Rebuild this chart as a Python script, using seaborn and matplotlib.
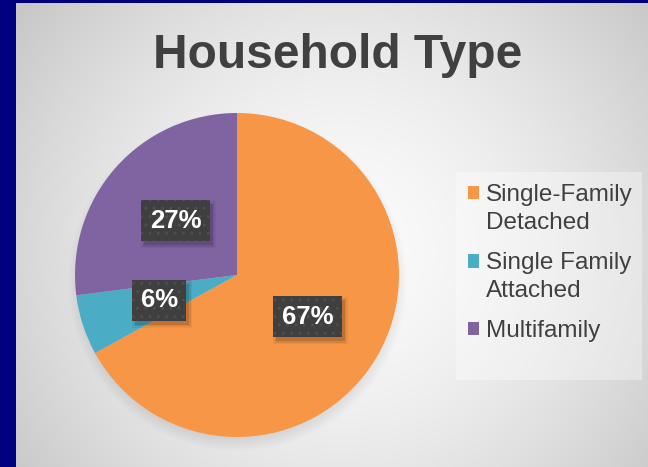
import numpy as np
import matplotlib
matplotlib.use("Agg")
import matplotlib.pyplot as plt
import seaborn as sns
from matplotlib.patches import Rectangle

# ---- data ----
categories = ["Single-Family\nDetached", "Single Family\nAttached", "Multifamily"]
shares = [67, 6, 27]
colors = ["#F79646", "#4BACC6", "#8064A2"]
title = "Household Type"

sns.set_style("white")
plt.rcParams['font.family'] = ['Liberation Sans', 'DejaVu Sans']

W, H = 648, 467
fig = plt.figure(figsize=(W / 100, H / 100), dpi=100)

# ---- background (radial gradient + soft pie shadow) ----
bg = fig.add_axes([0, 0, 1, 1], zorder=0)
yy, xx = np.mgrid[0:H, 0:W]
cx, cy = 340, 250
r = np.hypot(xx - cx, yy - cy)
val = 0.985 - 0.22 * (r / r.max()) ** 1.6
pcx, pcy, pr = 237, 275, 162
d = np.hypot(xx - pcx, yy - (pcy + 6))
val = val - np.clip((pr + 8 - d) / 16, 0, 1) * 0.10
img = np.clip(np.dstack([val] * 3), 0, 1)
bg.imshow(img, extent=[0, W, H, 0], aspect='auto', interpolation='bilinear')
bg.add_patch(Rectangle((0, 0), 16, H, color='#000080', lw=0))
bg.add_patch(Rectangle((0, 0), W, 3, color='#000080', lw=0))
# legend panel
bg.add_patch(Rectangle((456, 172), 186, 208, facecolor='white', alpha=0.35, lw=0))
bg.set_xlim(0, W)
bg.set_ylim(H, 0)
bg.axis('off')

# ---- pie ----
pax = fig.add_axes([(pcx - pr) / W, (H - pcy - pr) / H, 2 * pr / W, 2 * pr / H], zorder=1)
wedges, texts, autotexts = pax.pie(
    shares, colors=sns.color_palette(colors), startangle=90, counterclock=False,
    autopct='%1.0f%%', pctdistance=0.505, radius=1,
    wedgeprops=dict(linewidth=0),
    textprops=dict(color='white', fontsize=18.5, fontweight='bold', zorder=5))
pax.set_xlim(-1, 1)
pax.set_ylim(-1, 1)
pax.set_aspect('equal')
pax.axis('off')

for t in autotexts:
    t.set_bbox(dict(boxstyle='square,pad=0.33', facecolor='#3f3f3f',
                    edgecolor='#4e4e4e', linewidth=0, hatch='..'))

# soft drop shadow under each label box, built from translucent rectangles
fig.canvas.draw()
for t in autotexts:
    ext = t.get_bbox_patch().get_window_extent()
    for grow, a in [(3, 0.05), (1.5, 0.08), (0, 0.12)]:
        x0, y0 = ext.x0 + 3 - grow, ext.y0 - 4 - grow
        pax.add_patch(Rectangle((x0, y0), ext.width + 2 * grow, ext.height + 2 * grow,
                                transform=None, facecolor='black', alpha=a,
                                linewidth=0, zorder=4))

# ---- legend ----
fs = 17.5
leg = fig.legend(wedges, categories, loc='upper left',
                 bbox_to_anchor=(468 / W, 1 - 184 / H),
                 frameon=False, fontsize=fs, handlelength=0.47, handleheight=0.47,
                 handletextpad=0.25, labelspacing=0.75, borderpad=0, borderaxespad=0)
for t in leg.get_texts():
    t.set_color('#404040')
    t.set_linespacing(1.35)
# align the square marker with the first line of multi-line labels
for h, lab in zip(leg.legend_handles, categories):
    n = lab.count('\n')
    if n:
        h.set_y(h.get_y() + n * 11.6)

# ---- title ----
fig.text(338 / W, 1 - 68 / H, title, ha='center', va='baseline',
         fontsize=34.5, fontweight='bold', color='#404040')

fig.savefig('out.png', dpi=100)
